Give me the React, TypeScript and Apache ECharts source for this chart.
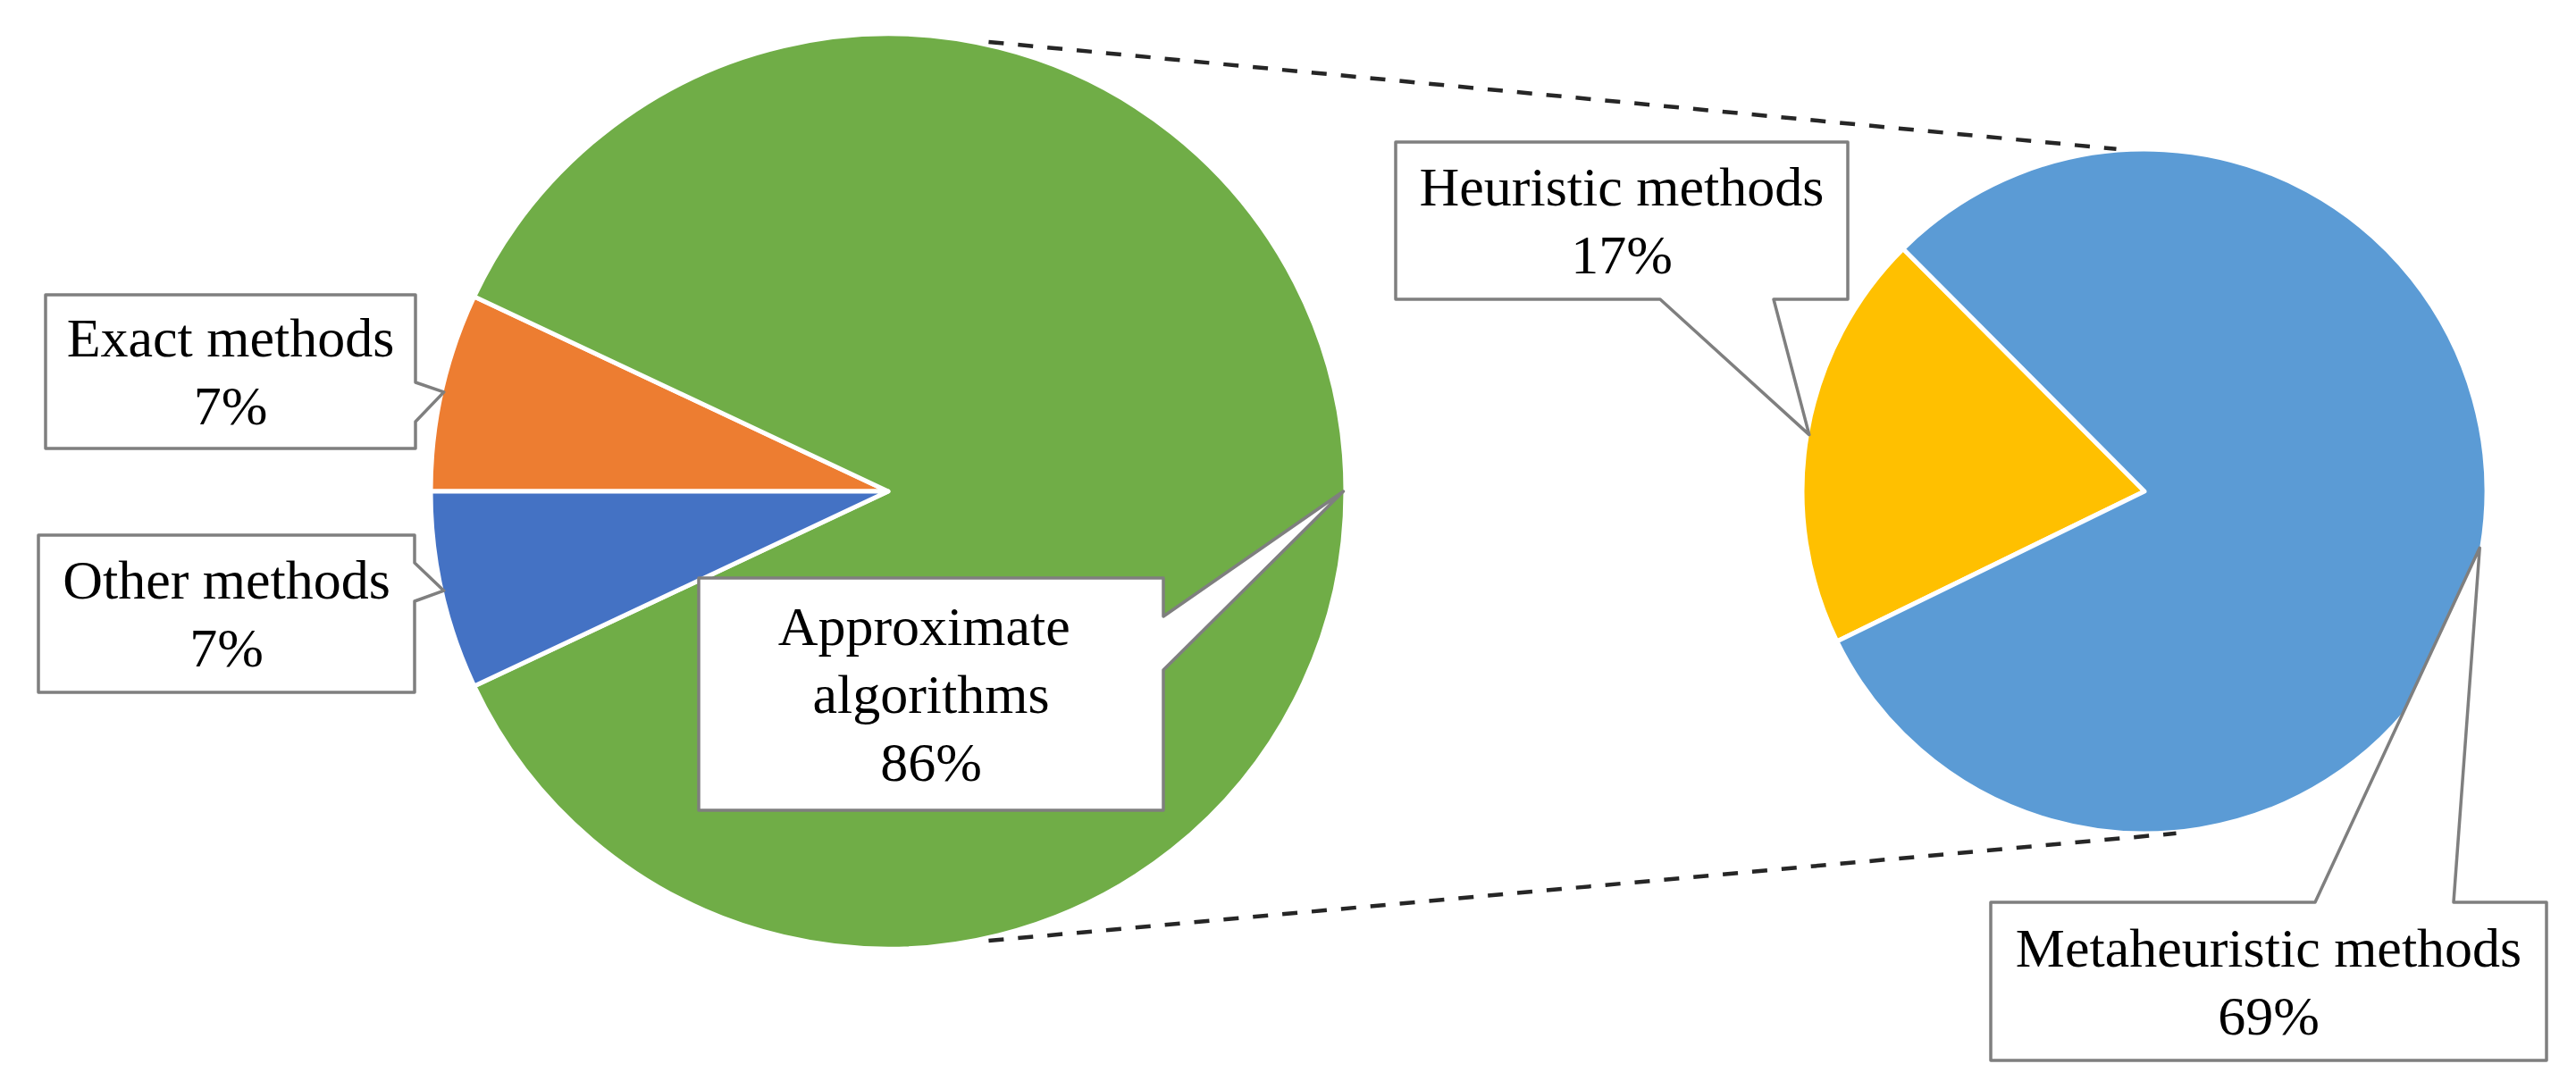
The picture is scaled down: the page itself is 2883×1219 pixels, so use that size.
import React, { useEffect, useRef } from "react";
import * as echarts from "echarts";

const W = 2883;
const H = 1219;

// ---- Data ----
const mainCategories = ["Exact methods", "Approximate algorithms", "Other methods"];
const mainValues = [7, 86, 7];
const mainColors = ["#ED7D31", "#70AD47", "#4472C4"];

const subCategories = ["Heuristic methods", "Metaheuristic methods"];
const subValues = [17, 69];
const subColors = ["#FFC000", "#5B9BD5"];

// ---- Layout ----
const MAIN = { cx: 994, cy: 550, r: 512, start: 180 };
const SUB = { cx: 2400, cy: 550, r: 383, start: 206 };
const BORDER = 5;

// callout boxes [x1, y1, x2, y2]; wedge base on a side between a and b
const mainBoxes = [
  { box: [51, 330, 465, 502], side: "right", a: 428, b: 472, width: 0 },
  { box: [782, 647, 1302, 907], side: "right", a: 690, b: 750, width: 440 },
  { box: [43, 599, 464, 775], side: "right", a: 630, b: 673, width: 0 },
];
const subBoxes = [
  { box: [1562, 159, 2068, 335], side: "bottom", a: 1858, b: 1985, width: 0 },
  { box: [2228, 1010, 2850, 1187], side: "top", a: 2591, b: 2746, width: 0 },
];

// connector angles (deg) on primary and secondary pie
const connectors = [
  { main: 77.4, sub: 94.7 },
  { main: -77.4, sub: -84.7 },
];

const FONT = "'Liberation Serif', 'Times New Roman', serif";

function midAngles(values: number[], start: number) {
  const total = values.reduce((s, v) => s + v, 0);
  let acc = 0;
  return values.map((v) => {
    const m = start - ((acc + v / 2) / total) * 360;
    acc += v;
    return m;
  });
}

function onCircle(cfg: any, deg: number, extra = 0) {
  const rv = cfg.r - BORDER / 2 + extra;
  const rad = (deg * Math.PI) / 180;
  return [cfg.cx + rv * Math.cos(rad), cfg.cy - rv * Math.sin(rad)];
}

function calloutPoints(c: any, tip: number[]) {
  const [x1, y1, x2, y2] = c.box;
  const pts: number[][] = [[x1, y1]];
  if (c.side === "top") pts.push([c.a, y1], tip, [c.b, y1]);
  pts.push([x2, y1]);
  if (c.side === "right") pts.push([x2, c.a], tip, [x2, c.b]);
  pts.push([x2, y2]);
  if (c.side === "bottom") pts.push([c.b, y2], tip, [c.a, y2]);
  pts.push([x1, y2]);
  return pts;
}

function buildGraphics() {
  const els: any[] = [];
  const mainMids = midAngles(mainValues, MAIN.start);
  const subMids = midAngles(subValues, SUB.start);
  const boxStyle = { fill: "#ffffff", stroke: "#7F7F7F", lineWidth: 3.5, lineJoin: "round" };
  mainBoxes.forEach((c, i) => {
    els.push({
      type: "polygon",
      z: 5,
      silent: true,
      shape: { points: calloutPoints(c, onCircle(MAIN, mainMids[i])) },
      style: boxStyle,
    });
  });
  subBoxes.forEach((c, i) => {
    els.push({
      type: "polygon",
      z: 5,
      silent: true,
      shape: { points: calloutPoints(c, onCircle(SUB, subMids[i])) },
      style: boxStyle,
    });
  });
  connectors.forEach((cn) => {
    const p1 = onCircle(MAIN, cn.main, 6);
    const p2 = onCircle(SUB, cn.sub, 4);
    els.push({
      type: "line",
      z: 5,
      silent: true,
      shape: { x1: p1[0], y1: p1[1], x2: p2[0], y2: p2[1] },
      style: { stroke: "#262626", lineWidth: 4.5, lineDash: [17, 16] },
    });
  });
  return els;
}

function pieSeries(cfg: any, names: string[], values: number[], colors: string[], boxes: any[], withLabels: boolean) {
  return {
    type: "pie",
    z: withLabels ? 10 : 1,
    center: [cfg.cx, cfg.cy],
    radius: cfg.r,
    startAngle: cfg.start,
    clockwise: true,
    avoidLabelOverlap: false,
    silent: true,
    emphasis: { disabled: true },
    labelLine: { show: false },
    itemStyle: withLabels
      ? { color: "rgba(0,0,0,0)", borderWidth: 0 }
      : { borderColor: "#ffffff", borderWidth: BORDER },
    label: withLabels
      ? {
          show: true,
          position: "outside",
          formatter: (p: any) => `${p.name}\n${p.value}%`,
          fontFamily: FONT,
          fontSize: 62,
          lineHeight: 76,
          color: "#000000",
          align: "center",
        }
      : { show: false },
    labelLayout: withLabels
      ? (params: any) => {
          const b = boxes[params.dataIndex].box;
          return {
            x: (b[0] + b[2]) / 2,
            y: (b[1] + b[3]) / 2,
            align: "center",
            verticalAlign: "middle",
          };
        }
      : undefined,
    data: names.map((n, i) => {
      const item: any = {
        name: n,
        value: values[i],
        itemStyle: withLabels ? { color: "rgba(0,0,0,0)" } : { color: colors[i] },
      };
      if (withLabels && boxes[i].width) {
        item.label = { width: boxes[i].width, overflow: "break" };
      }
      return item;
    }),
  };
}

export default function App() {
  const ref = useRef<HTMLDivElement>(null);
  useEffect(() => {
    if (!ref.current) return;
    document.body.style.margin = "0";
    const chart = echarts.init(ref.current, undefined, { renderer: "svg", width: W, height: H });
    chart.setOption({
      animation: false,
      backgroundColor: "#ffffff",
      graphic: { elements: buildGraphics() },
      series: [
        pieSeries(MAIN, mainCategories, mainValues, mainColors, mainBoxes, false),
        pieSeries(SUB, subCategories, subValues, subColors, subBoxes, false),
        pieSeries(MAIN, mainCategories, mainValues, mainColors, mainBoxes, true),
        pieSeries(SUB, subCategories, subValues, subColors, subBoxes, true),
      ],
    });
    return () => chart.dispose();
  }, []);
  return (
    <div
      ref={ref}
      style={{ position: "absolute", left: 0, top: 0, width: W, height: H, background: "#fff" }}
    />
  );
}
